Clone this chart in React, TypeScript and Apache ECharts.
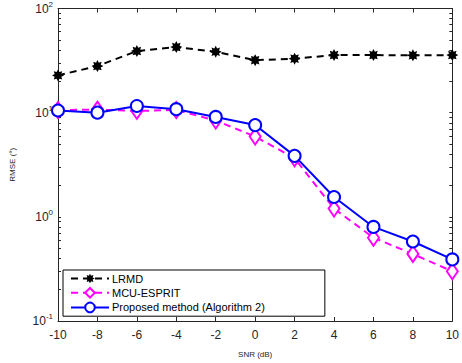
import React, { useEffect, useRef } from "react";
import * as echarts from "echarts";

const snr = [-10, -8, -6, -4, -2, 0, 2, 4, 6, 8, 10];
const lrmd = [22.8, 28.0, 39.0, 42.6, 38.4, 31.9, 33.0, 35.7, 35.7, 35.5, 35.7];
const mcuEsprit = [10.6, 10.7, 10.4, 10.6, 8.4, 5.9, 3.65, 1.2, 0.63, 0.44, 0.3];
const proposed = [10.5, 10.0, 11.6, 10.8, 9.1, 7.6, 3.85, 1.55, 0.8, 0.58, 0.39];
const xTicks = [-10, -8, -6, -4, -2, 0, 2, 4, 6, 8, 10];
const yMajor = [0.1, 1, 10, 100];
const seriesNames = ["LRMD", "MCU-ESPRIT", "Proposed method (Algorithm 2)"];

function starPath(n: number, inner: number): string {
  const pts: string[] = [];
  for (let i = 0; i < n * 2; i++) {
    const r = i % 2 === 0 ? 10 : 10 * inner;
    const a = (Math.PI * i) / n - Math.PI / 2;
    pts.push(`${(r * Math.cos(a)).toFixed(2)} ${(r * Math.sin(a)).toFixed(2)}`);
  }
  return "path://M" + pts.join(" L") + " Z";
}

export default function App() {
  const ref = useRef<HTMLDivElement>(null);
  useEffect(() => {
    if (!ref.current) return;
    const chart = echarts.init(ref.current, null, { renderer: "svg" });
    const minor: number[] = [];
    [0.1, 1, 10].forEach((d) => {
      for (let k = 1; k <= 9; k++) minor.push(+(d * k).toPrecision(3));
    });
    minor.push(100);
    const axisColor = "#262626";
    const font = "Liberation Sans, Arial, sans-serif";
    const yLabel = (v: number) => {
      const e = Math.round(Math.log10(v));
      return `{b|10}{s|${e}}`;
    };
    const star = starPath(8, 0.6);
    chart.setOption({
      animation: false,
      backgroundColor: "#fff",
      grid: { left: 56, right: 8, top: 8, bottom: 41, containLabel: false },
      legend: {
        orient: "vertical",
        left: 63,
        top: 270,
        width: 210,
        padding: [3, 60, 3, 7],
        itemGap: 3,
        itemWidth: 38,
        itemHeight: 12,
        borderColor: "#000",
        borderWidth: 1,
        backgroundColor: "#fff",
        textStyle: { fontFamily: font, fontSize: 11, color: "#000", padding: [0, 0, 0, -2] },
        data: seriesNames,
      },
      xAxis: [
        {
          type: "value",
          min: -10,
          max: 10,
          interval: 2,
          name: "SNR (dB)",
          nameLocation: "middle",
          nameGap: 29,
          nameTextStyle: { fontFamily: font, fontSize: 8, color: axisColor },
          axisLine: { onZero: false, lineStyle: { color: axisColor, width: 1 } },
          axisTick: { inside: true, length: 4, lineStyle: { color: axisColor }, customValues: xTicks },
          axisLabel: { fontFamily: font, fontSize: 12, color: axisColor, margin: 8, customValues: xTicks },
          splitLine: { show: false },
        },
        {
          type: "value",
          position: "top",
          min: -10,
          max: 10,
          interval: 2,
          axisLine: { onZero: false, lineStyle: { color: axisColor, width: 1 } },
          axisTick: { inside: true, length: 4, lineStyle: { color: axisColor }, customValues: xTicks },
          axisLabel: { show: false },
          splitLine: { show: false },
        },
      ],
      yAxis: [
        {
          type: "log",
          logBase: 10,
          min: 0.1,
          max: 100,
          name: "RMSE (°)",
          nameLocation: "middle",
          nameGap: 42,
          nameTextStyle: { fontFamily: font, fontSize: 8, color: axisColor },
          axisLine: { show: true, onZero: false, lineStyle: { color: axisColor, width: 1 } },
          axisTick: { show: true, inside: true, length: 3, lineStyle: { color: axisColor }, customValues: minor },
          axisLabel: {
            customValues: yMajor,
            formatter: yLabel,
            margin: 5,
            rich: {
              b: { fontFamily: font, fontSize: 12, color: axisColor },
              s: { fontFamily: font, fontSize: 8, color: axisColor, padding: [0, 0, 9, 0] },
            },
          },
          splitLine: { show: false },
        },
        {
          type: "log",
          logBase: 10,
          min: 0.1,
          max: 100,
          position: "right",
          axisLine: { show: true, onZero: false, lineStyle: { color: axisColor, width: 1 } },
          axisTick: { show: true, inside: true, length: 3, lineStyle: { color: axisColor }, customValues: minor },
          axisLabel: { show: false },
          splitLine: { show: false },
        },
      ],
      series: [
        {
          name: seriesNames[0],
          type: "line",
          data: snr.map((x, i) => [x, lrmd[i]]),
          symbol: star,
          symbolSize: 12,
          itemStyle: { color: "#000" },
          lineStyle: { color: "#000", width: 2, type: [7, 5] },
        },
        {
          name: seriesNames[1],
          type: "line",
          data: snr.map((x, i) => [x, mcuEsprit[i]]),
          symbol: "emptyDiamond",
          symbolSize: [11, 16],
          itemStyle: { color: "#ff00ff", borderWidth: 2 },
          lineStyle: { color: "#ff00ff", width: 2, type: [7, 5] },
        },
        {
          name: seriesNames[2],
          type: "line",
          data: snr.map((x, i) => [x, proposed[i]]),
          symbol: "emptyCircle",
          symbolSize: 12,
          itemStyle: { color: "#0000ff", borderWidth: 2 },
          lineStyle: { color: "#0000ff", width: 2 },
        },
      ],
    });
    return () => chart.dispose();
  }, []);
  return (
    <div
      ref={ref}
      style={{ position: "absolute", left: 0, top: 0, width: 462, height: 363 }}
    />
  );
}
